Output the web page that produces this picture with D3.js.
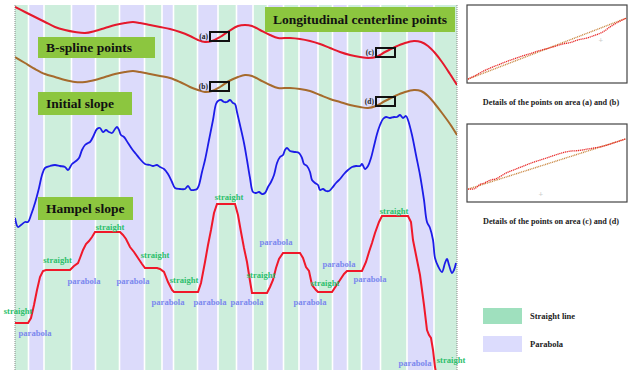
<!DOCTYPE html>
<html><head><meta charset="utf-8">
<script src="https://cdn.jsdelivr.net/npm/d3@7/dist/d3.min.js"></script>
<style>body{margin:0;background:#fff}svg{display:block}text{font-family:"Liberation Serif","Times New Roman",serif;font-weight:bold}</style>
</head><body><div id="chart"></div>
<script>
// ---------- data ----------
const bandEdges = [0, 13.5, 29, 56.5, 80.5, 104.5, 129.5, 147, 158.5, 182.5, 203, 221.5, 238, 252.5, 268.5, 284, 303, 317.5, 332.5, 346.5, 365.5, 392, 419, 442];
const bandTypes = ["S","P","S","P","S","P","S","P","S","P","S","P","S","P","S","P","S","P","S","P","S","P","S"];

const centerlinePts = [[0,363],[10,358],[20,353],[30,348],[40,343],[50,340],[60,338],[70,337],[80,339],[90,342],[100,345],[110,347],[118,348],[125,347],[135,345],[145,343],[155,341],[165,338],[175,334],[183,330],[190,328],[197,329],[205,333],[214,339],[223,344],[230,345],[237,344],[245,340],[255,335],[263,332],[275,332],[285,331],[295,329],[305,326],[315,322],[325,318],[335,315],[345,313],[353,312],[361,313],[370,318],[380,323],[390,327],[399,329],[406,328],[413,324],[420,317],[427,308],[435,296],[442,285]];

const bsplinePts = [[0,313],[10,307],[20,301],[30,296],[40,293],[50,290],[60,288],[70,288],[80,290],[90,293],[100,296],[110,298],[118,299],[125,298],[135,296],[145,294],[155,292],[165,288],[175,283],[183,280],[190,278],[197,279],[205,283],[214,289],[223,293],[230,295],[237,294],[245,290],[255,285],[263,282],[275,282],[285,281],[295,279],[305,275],[315,271],[325,268],[335,265],[345,263],[353,262],[361,264],[370,269],[380,274],[390,278],[399,280],[406,279],[413,274],[420,266],[427,257],[435,246],[442,235]];

const initialSlopePts = [[0,152],[3,143],[6,145],[10,148],[13,148],[16,155],[20,167],[24,182],[27,195],[30,202],[35,204],[40,205],[45,204],[50,203],[53,200],[57,206],[61,209],[64,212],[67,220],[70,225],[73,227],[75,228],[78,233],[82,241],[85,242],[88,238],[91,240],[94,238],[97,237],[100,241],[102,243],[104,240],[106,235],[109,233],[113,227],[117,221],[121,216],[125,211],[130,206],[135,205],[138,204],[142,205],[145,203],[149,201],[153,196],[157,188],[160,182],[165,181],[170,181],[173,184],[176,180],[179,180],[182,181],[184,185],[187,198],[190,210],[194,230],[198,250],[201,266],[203,269],[206,270],[209,268],[212,268],[215,270],[218,267],[220,266],[222,258],[225,245],[229,227],[232,210],[235,192],[238,178],[241,177],[244,178],[247,176],[250,177],[253,183],[256,188],[259,195],[262,207],[265,213],[268,215],[270,220],[272,222],[275,219],[280,218],[284,217],[287,212],[289,206],[292,204],[295,198],[297,190],[300,187],[303,185],[305,180],[308,181],[311,179],[314,179],[317,182],[321,187],[325,191],[329,196],[333,200],[337,203],[341,204],[345,204],[347,206],[350,201],[353,204],[356,212],[359,224],[362,236],[365,245],[368,251],[371,253],[375,252],[379,253],[382,253],[385,255],[388,252],[391,254],[393,250],[397,235],[401,215],[405,195],[409,170],[412,148],[415,142],[418,130],[420,112],[423,104],[427,98],[430,107],[432,111],[434,105],[437,97],[439,100],[441,107]];

const hampelPts = [[0,47],[13,47],[16,52],[19,65],[22,80],[25,93],[28,99],[31,100],[55,100],[59,104],[63,107],[65,112],[68,120],[71,126],[74,129],[77,133],[80,138],[105,138],[108,135],[111,131],[115,123],[119,118],[123,112],[127,106],[130,102],[142,102],[145,101],[149,98],[153,88],[157,80],[159,78],[183,78],[186,87],[190,108],[193,125],[196,140],[199,157],[202,166],[220,166],[223,155],[226,138],[229,122],[232,108],[235,89],[237,77],[252,77],[255,83],[258,90],[261,102],[264,111],[268,117],[285,117],[288,112],[291,103],[294,99],[297,85],[301,80],[303,78],[317,78],[321,84],[325,90],[329,96],[332,99],[347,99],[351,108],[354,118],[357,127],[360,137],[364,148],[367,154],[393,154],[396,148],[398,130],[401,115],[405,95],[409,65],[412,40],[414,35],[416,32],[418,20],[420,3],[422,-8],[425,-20],[442,-20]];

const segLabels = [["straight",3,56],["parabola",20,34],["straight",42.5,107],["straight",95,140],["parabola",69,86],["parabola",118,86],["straight",140,112],["straight",169,87],["parabola",153,65],["parabola",195,65],["straight",214,170],["parabola",261,125],["straight",246,92],["parabola",232,65],["straight",310,84],["parabola",295,65],["parabola",324,103],["parabola",355,88],["straight",379,156],["parabola",400,4],["straight",436,7]];

const zoomBoxes = [["(a)",195,214,329,338],["(b)",195,214,279,288],["(c)",361,380,313,322],["(d)",361,380,264,273]];

// detail panels (normalised 0..1 along the zoomed window)
const detailLineAB = [[0,0.05],[1,0.83]];
const detailPtsAB = [[0,0.05],[0.05,0.10],[0.1,0.155],[0.15,0.20],[0.2,0.24],[0.25,0.28],[0.3,0.315],[0.35,0.35],[0.4,0.38],[0.45,0.415],[0.5,0.44],[0.55,0.47],[0.6,0.50],[0.65,0.52],[0.7,0.555],[0.75,0.575],[0.8,0.61],[0.85,0.65],[0.9,0.72],[0.95,0.78],[1,0.83]];
const detailLineCD = [[0,0.165],[1,0.81]];
const detailPtsCD = [[0,0.165],[0.04,0.17],[0.08,0.23],[0.1,0.24],[0.14,0.28],[0.18,0.30],[0.24,0.37],[0.3,0.42],[0.35,0.46],[0.4,0.50],[0.46,0.54],[0.52,0.58],[0.58,0.62],[0.64,0.65],[0.7,0.66],[0.76,0.68],[0.82,0.70],[0.88,0.73],[0.94,0.77],[1,0.81]];

const legendItems = [["Straight line","S"],["Parabola","P"]];

// ---------- drawing ----------
const W = 644, H = 370;
const svg = d3.select("#chart").append("svg").attr("width", W).attr("height", H);

const x = d3.scaleLinear().domain([0, 442]).range([15, 457]);
const y = d3.scaleLinear().domain([0, 365]).range([370, 5]);

const bandFill = {S: "#cdeedc", P: "#dcdbfb"};
const legendFill = {S: "#9fe0be", P: "#dcdcfd"};

svg.append("defs").append("clipPath").attr("id", "plotClip")
  .append("rect").attr("x", 15).attr("y", 5).attr("width", 442).attr("height", 365);

const bands = svg.append("g");
bandTypes.forEach((t, i) => {
  const x0 = x(bandEdges[i]) + (i === 0 ? 0 : 0.8);
  const x1 = x(bandEdges[i + 1]) - (i === bandTypes.length - 1 ? 0 : 0.8);
  bands.append("rect").attr("x", x0).attr("y", y(365)).attr("width", x1 - x0)
    .attr("height", y(0) - y(365)).attr("fill", bandFill[t]);
});

// dotted frame sides
[0, 442].forEach(v => {
  svg.append("line").attr("x1", x(v)).attr("x2", x(v)).attr("y1", y(365)).attr("y2", y(0))
    .attr("stroke", "#888").attr("stroke-width", 1).attr("stroke-dasharray", "1,1");
});

const plot = svg.append("g").attr("clip-path", "url(#plotClip)");
const smooth = d3.line().x(d => x(d[0])).y(d => y(d[1])).curve(d3.curveCatmullRom.alpha(0.5));
const straight = d3.line().x(d => x(d[0])).y(d => y(d[1]));

plot.append("path").attr("d", smooth(centerlinePts)).attr("fill", "none").attr("stroke", "#e5182c").attr("stroke-width", 2);
plot.append("path").attr("d", smooth(bsplinePts)).attr("fill", "none").attr("stroke", "#a66a2c").attr("stroke-width", 2);
plot.append("path").attr("d", smooth(initialSlopePts)).attr("fill", "none").attr("stroke", "#1c1ce8").attr("stroke-width", 1.8);
plot.append("path").attr("d", straight(hampelPts)).attr("fill", "none").attr("stroke", "#f0182a").attr("stroke-width", 2);

// zoom boxes
zoomBoxes.forEach(b => {
  svg.append("rect").attr("x", x(b[1])).attr("y", y(b[4])).attr("width", x(b[2]) - x(b[1]))
    .attr("height", y(b[3]) - y(b[4])).attr("fill", "none").attr("stroke", "#111").attr("stroke-width", 2);
  svg.append("text").attr("x", x(b[1]) - 2).attr("y", (y(b[3]) + y(b[4])) / 2 + 2.5)
    .attr("text-anchor", "end").attr("font-size", 7.5).attr("fill", "#222").text(b[0]);
});

// segment labels
segLabels.forEach(l => {
  svg.append("text").attr("x", x(l[1])).attr("y", y(l[2]))
    .attr("text-anchor", "middle").attr("font-size", 8.6)
    .attr("fill", l[0] === "straight" ? "#2dbf6c" : "#7b88ee").text(l[0]);
});

// title boxes
const titles = [["Longitudinal centerline points", 265, 7, 190, 25, "middle"],
                ["B-spline points", 38, 37, 117, 21, "start"],
                ["Initial slope", 38, 92, 94, 23, "start"],
                ["Hampel slope", 38, 197, 95, 23, "start"]];
titles.forEach(t => {
  svg.append("rect").attr("x", t[1]).attr("y", t[2]).attr("width", t[3]).attr("height", t[4]).attr("fill", "#8cc63f");
  svg.append("text").attr("x", t[5] === "middle" ? t[1] + t[3] / 2 : t[1] + 8)
    .attr("y", t[2] + t[4] / 2 + 4.8).attr("text-anchor", t[5]).attr("font-size", 13.5).attr("fill", "#111").text(t[0]);
});

// detail panels
function panel(top, linePts, redPts, caption, crossU, crossV) {
  const px = d3.scaleLinear().domain([0, 1]).range([468, 626]);
  const py = d3.scaleLinear().domain([0, 1]).range([top + 78, top]);
  svg.append("rect").attr("x", 467).attr("y", top).attr("width", 160).attr("height", 78)
    .attr("fill", "#fff").attr("stroke", "#444").attr("stroke-width", 1.2);
  const l = d3.line().x(d => px(d[0])).y(d => py(d[1]));
  svg.append("path").attr("d", l(linePts)).attr("fill", "none").attr("stroke", "#c8843c")
    .attr("stroke-width", 1.4).attr("stroke-dasharray", "1,0.8");
  svg.append("path").attr("d", l.curve(d3.curveCatmullRom)(redPts)).attr("fill", "none").attr("stroke", "#e82828")
    .attr("stroke-width", 1.3).attr("stroke-dasharray", "1.2,0.7");
  svg.append("text").attr("x", px(crossU)).attr("y", py(crossV) + 2.5).attr("text-anchor", "middle")
    .attr("font-size", 8).attr("font-weight", "normal").attr("fill", "#ccc").text("+");
  svg.append("text").attr("x", 551).attr("y", top + 100).attr("text-anchor", "middle")
    .attr("font-size", 8.2).attr("fill", "#222").text(caption);
}
panel(5, detailLineAB, detailPtsAB, "Details of the points on area (a) and (b)", 0.84, 0.55);
panel(124, detailLineCD, detailPtsCD, "Details of the points on area (c) and (d)", 0.46, 0.1);

// legend
legendItems.forEach((it, i) => {
  const ly = 308 + i * 28;
  svg.append("rect").attr("x", 483).attr("y", ly).attr("width", 39).attr("height", 16).attr("fill", legendFill[it[1]]);
  svg.append("text").attr("x", 530).attr("y", ly + 11).attr("font-size", 8.5).attr("fill", "#222").text(it[0]);
});
</script></body></html>
